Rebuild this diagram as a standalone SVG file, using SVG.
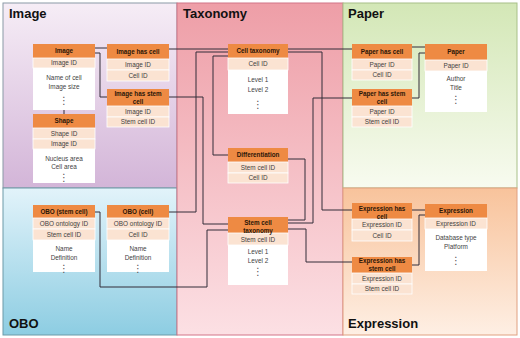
<svg xmlns="http://www.w3.org/2000/svg" width="520" height="338" viewBox="0 0 520 338">
<defs>
<linearGradient id="gImg" x1="0" y1="0" x2="0" y2="1"><stop offset="0" stop-color="#F6EDF6"/><stop offset="1" stop-color="#D3B5D8"/></linearGradient>
<linearGradient id="gObo" x1="0" y1="0" x2="0" y2="1"><stop offset="0" stop-color="#E2F3FA"/><stop offset="1" stop-color="#8DCDE2"/></linearGradient>
<linearGradient id="gTax" x1="0" y1="0" x2="0" y2="1"><stop offset="0" stop-color="#EE9EA7"/><stop offset="1" stop-color="#FCE0E4"/></linearGradient>
<linearGradient id="gPap" x1="0" y1="0" x2="0" y2="1"><stop offset="0" stop-color="#D3E7B6"/><stop offset="1" stop-color="#F8FBF0"/></linearGradient>
<linearGradient id="gExp" x1="0" y1="0" x2="0" y2="1"><stop offset="0" stop-color="#F8C39B"/><stop offset="1" stop-color="#FEEFE4"/></linearGradient>
</defs>
<style>
.h{fill:#EE8A43}
.r{fill:#FBE3D2;stroke:#fff;stroke-width:0.8}
.b{fill:#fff}
.ht{font-family:"Liberation Sans",Arial,sans-serif;font-weight:bold;font-size:6.3px;fill:#2a1608;text-anchor:middle}
.rt{font-family:"Liberation Sans",Arial,sans-serif;font-size:6.4px;fill:#3f3f3f;text-anchor:middle}
.dt{font-family:"DejaVu Sans",sans-serif;font-size:10px;fill:#555;text-anchor:middle}
.pt{font-family:"Liberation Sans",Arial,sans-serif;font-weight:bold;font-size:13px;fill:#111}
.con{fill:none;stroke:#332c38;stroke-width:1}
</style>
<g id="panels">
<rect x="3" y="3" width="174" height="185" fill="url(#gImg)" stroke="#8A9AA6" stroke-width="1"/>
<rect x="3" y="188" width="174" height="147" fill="url(#gObo)" stroke="#6C9AA8" stroke-width="1"/>
<rect x="177" y="3" width="166" height="332" fill="url(#gTax)" stroke="#D27488" stroke-width="1"/>
<rect x="343" y="3" width="174" height="185" fill="url(#gPap)" stroke="#A8C088" stroke-width="1"/>
<rect x="343" y="188" width="174" height="147" fill="url(#gExp)" stroke="#E0A080" stroke-width="1"/>
<text class="pt" x="9" y="18">Image</text>
<text class="pt" x="183" y="18">Taxonomy</text>
<text class="pt" x="348" y="18">Paper</text>
<text class="pt" x="9" y="328">OBO</text>
<text class="pt" x="348" y="328">Expression</text>
</g>
<g id="connectors" class="con">
<path d="M95,48H107"/>
<path d="M95,53H100V97H107"/>
<path d="M64,110V114"/>
<path d="M169,49H228"/>
<path d="M288,49H352"/>
<path d="M169,212H196V52H228"/>
<path d="M169,97H203V224H228"/>
<path d="M95,212H100V287H207V230H228"/>
<path d="M228,56H213V155H228"/>
<path d="M288,159H305V220H288"/>
<path d="M352,98H313V223H288"/>
<path d="M288,52H322V210H352"/>
<path d="M288,229H306V262H352"/>
<path d="M412,47H425"/>
<path d="M412,98H419V53H425"/>
<path d="M412,210H425"/>
<path d="M412,265H419V215H425"/>
</g>
<g id="image">
<rect class="h" x="33" y="44" width="62" height="14"/>
<rect class="r" x="33" y="58" width="62" height="10"/>
<rect class="b" x="33" y="68" width="62" height="42"/>
<text class="ht" x="64" y="53.2">Image</text>
<text class="rt" x="64" y="65.2">Image ID</text>
<text class="rt" x="64" y="80">Name of cell</text>
<text class="rt" x="64" y="89">Image size</text>
<text class="dt" x="64" y="104">⋮</text>
</g>
<g id="shape">
<rect class="h" x="33" y="114" width="62" height="14"/>
<rect class="r" x="33" y="128" width="62" height="11"/>
<rect class="r" x="33" y="139" width="62" height="10"/>
<rect class="b" x="33" y="149" width="62" height="34"/>
<text class="ht" x="64" y="123.2">Shape</text>
<text class="rt" x="64" y="135.7">Shape ID</text>
<text class="rt" x="64" y="146.2">Image ID</text>
<text class="rt" x="64" y="160.7">Nucleus area</text>
<text class="rt" x="64" y="169.2">Cell area</text>
<text class="dt" x="64" y="181">⋮</text>
</g>
<g id="image-has-cell">
<rect class="h" x="107" y="44" width="62" height="15"/>
<rect class="r" x="107" y="59" width="62" height="11"/>
<rect class="r" x="107" y="70" width="62" height="11"/>
<text class="ht" x="138" y="53.7">Image has cell</text>
<text class="rt" x="138" y="66.7">Image ID</text>
<text class="rt" x="138" y="77.7">Cell ID</text>
</g>
<g id="image-has-stem-cell">
<rect class="h" x="107" y="89" width="62" height="17"/>
<rect class="r" x="107" y="106" width="62" height="11"/>
<rect class="r" x="107" y="117" width="62" height="10"/>
<text class="ht" x="138" y="96.3">Image has stem</text>
<text class="ht" x="138" y="104.3">cell</text>
<text class="rt" x="138" y="113.7">Image ID</text>
<text class="rt" x="138" y="124.2">Stem cell ID</text>
</g>
<g id="cell-taxonomy">
<rect class="h" x="228" y="44" width="60" height="14"/>
<rect class="r" x="228" y="58" width="60" height="12"/>
<rect class="b" x="228" y="70" width="60" height="44"/>
<text class="ht" x="258" y="53.2">Cell taxonomy</text>
<text class="rt" x="258" y="66.2">Cell ID</text>
<text class="rt" x="258" y="82.2">Level 1</text>
<text class="rt" x="258" y="91.5">Level 2</text>
<text class="dt" x="258" y="108">⋮</text>
</g>
<g id="differentiation">
<rect class="h" x="228" y="148" width="60" height="14"/>
<rect class="r" x="228" y="162" width="60" height="11"/>
<rect class="r" x="228" y="173" width="60" height="10"/>
<text class="ht" x="258" y="157.2">Differentiation</text>
<text class="rt" x="258" y="169.7">Stem cell ID</text>
<text class="rt" x="258" y="180.2">Cell ID</text>
</g>
<g id="stem-cell-taxonomy">
<rect class="h" x="228" y="217" width="60" height="16"/>
<rect class="r" x="228" y="233" width="60" height="12"/>
<rect class="b" x="228" y="245" width="60" height="40"/>
<text class="ht" x="258" y="224.5">Stem cell</text>
<text class="ht" x="258" y="232.5">taxonomy</text>
<text class="rt" x="258" y="241.5">Stem cell ID</text>
<text class="rt" x="258" y="253.9">Level 1</text>
<text class="rt" x="258" y="262.9">Level 2</text>
<text class="dt" x="258" y="275">⋮</text>
</g>
<g id="paper-has-cell">
<rect class="h" x="352" y="44" width="60" height="15"/>
<rect class="r" x="352" y="59" width="60" height="11"/>
<rect class="r" x="352" y="70" width="60" height="10"/>
<text class="ht" x="382" y="53.7">Paper has cell</text>
<text class="rt" x="382" y="66.7">Paper ID</text>
<text class="rt" x="382" y="77.2">Cell ID</text>
</g>
<g id="paper-has-stem-cell">
<rect class="h" x="352" y="89" width="60" height="17"/>
<rect class="r" x="352" y="106" width="60" height="11"/>
<rect class="r" x="352" y="117" width="60" height="10"/>
<text class="ht" x="382" y="96.3">Paper has stem</text>
<text class="ht" x="382" y="104.3">cell</text>
<text class="rt" x="382" y="113.7">Paper ID</text>
<text class="rt" x="382" y="124.2">Stem cell ID</text>
</g>
<g id="paper">
<rect class="h" x="425" y="44" width="62" height="16"/>
<rect class="r" x="425" y="60" width="62" height="11"/>
<rect class="b" x="425" y="71" width="62" height="41"/>
<text class="ht" x="456" y="54.2">Paper</text>
<text class="rt" x="456" y="67.7">Paper ID</text>
<text class="rt" x="456" y="80.7">Author</text>
<text class="rt" x="456" y="89.7">Title</text>
<text class="dt" x="456" y="103">⋮</text>
</g>
<g id="expression-has-cell">
<rect class="h" x="352" y="203" width="60" height="16"/>
<rect class="r" x="352" y="219" width="60" height="11"/>
<rect class="r" x="352" y="230" width="60" height="11"/>
<text class="ht" x="382" y="210.5">Expression has</text>
<text class="ht" x="382" y="218.5">cell</text>
<text class="rt" x="382" y="226.7">Expression ID</text>
<text class="rt" x="382" y="237.7">Cell ID</text>
</g>
<g id="expression-has-stem-cell">
<rect class="h" x="352" y="257" width="60" height="16"/>
<rect class="r" x="352" y="273" width="60" height="11"/>
<rect class="r" x="352" y="284" width="60" height="10"/>
<text class="ht" x="382" y="263.3">Expression has</text>
<text class="ht" x="382" y="271.3">stem cell</text>
<text class="rt" x="382" y="280.7">Expression ID</text>
<text class="rt" x="382" y="291.2">Stem cell ID</text>
</g>
<g id="expression">
<rect class="h" x="425" y="204" width="62" height="14"/>
<rect class="r" x="425" y="218" width="62" height="11"/>
<rect class="b" x="425" y="229" width="62" height="42"/>
<text class="ht" x="456" y="213.2">Expression</text>
<text class="rt" x="456" y="225.7">Expression ID</text>
<text class="rt" x="456" y="239.9">Database type</text>
<text class="rt" x="456" y="248.5">Platform</text>
<text class="dt" x="456" y="264">⋮</text>
</g>
<g id="obo-stem-cell">
<rect class="h" x="33" y="205" width="62" height="13"/>
<rect class="r" x="33" y="218" width="62" height="11"/>
<rect class="r" x="33" y="229" width="62" height="11"/>
<rect class="b" x="33" y="240" width="62" height="32"/>
<text class="ht" x="64" y="213.7">OBO (stem cell)</text>
<text class="rt" x="64" y="225.7">OBO ontology ID</text>
<text class="rt" x="64" y="236.7">Stem cell ID</text>
<text class="rt" x="64" y="251.2">Name</text>
<text class="rt" x="64" y="259.9">Definition</text>
<text class="dt" x="64" y="272">⋮</text>
</g>
<g id="obo-cell">
<rect class="h" x="107" y="205" width="62" height="13"/>
<rect class="r" x="107" y="218" width="62" height="11"/>
<rect class="r" x="107" y="229" width="62" height="11"/>
<rect class="b" x="107" y="240" width="62" height="32"/>
<text class="ht" x="138" y="213.7">OBO (cell)</text>
<text class="rt" x="138" y="225.7">OBO ontology ID</text>
<text class="rt" x="138" y="236.7">Cell ID</text>
<text class="rt" x="138" y="251.2">Name</text>
<text class="rt" x="138" y="259.9">Definition</text>
<text class="dt" x="138" y="272">⋮</text>
</g>
</svg>
